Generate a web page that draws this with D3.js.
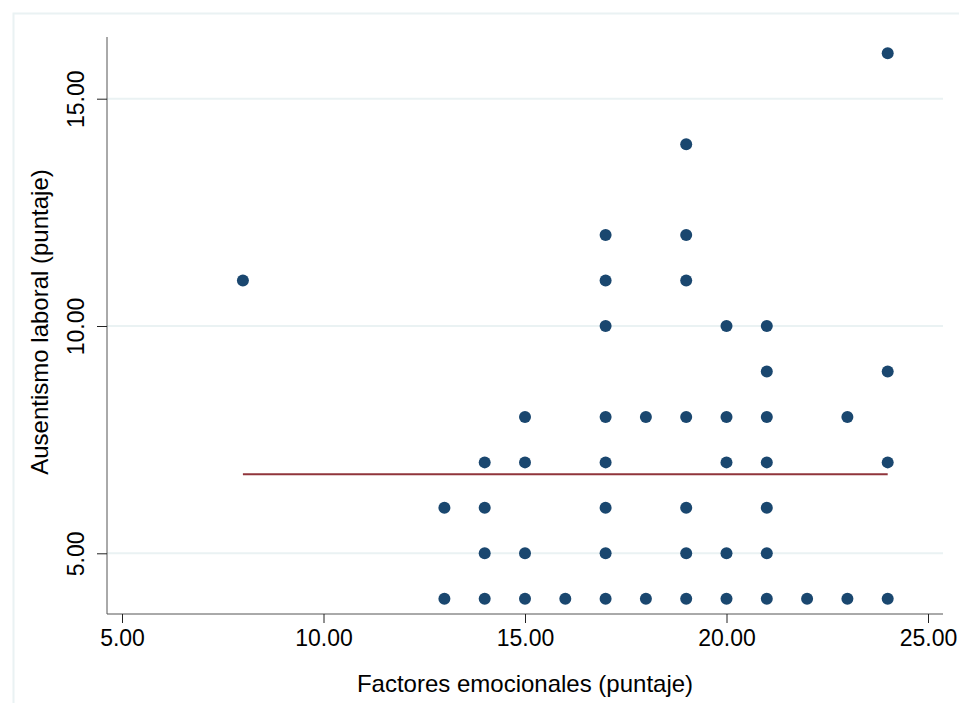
<!DOCTYPE html>
<html lang="es">
<head>
  <meta charset="UTF-8">
  <title>Factores emocionales vs ausentismo laboral</title>
  <style>
    body { margin: 0; background: #fff; }
    svg text { font-family: Arial, 'Liberation Sans', sans-serif; fill: #000; }
  </style>
</head>
<body>
  <div id="chart"></div>
  <script src="https://d3js.org/d3.v7.min.js"></script>
  <script>
    // factor emocional (x) y ausentismo (y) por observación
    const factores = [8, 13, 13, 14, 14, 14, 14, 15, 15, 15, 15, 16,
      17, 17, 17, 17, 17, 17, 17, 17, 18, 18,
      19, 19, 19, 19, 19, 19, 19, 20, 20, 20, 20, 20,
      21, 21, 21, 21, 21, 21, 21, 22, 23, 23, 24, 24, 24, 24];
    const ausentismo = [11, 6, 4, 7, 6, 5, 4, 8, 7, 5, 4, 4,
      12, 11, 10, 8, 7, 6, 5, 4, 8, 4,
      14, 12, 11, 8, 6, 5, 4, 10, 8, 7, 5, 4,
      10, 9, 8, 7, 6, 5, 4, 4, 8, 4, 16, 9, 7, 4];
    const ajusteX = [8, 24];
    const ajusteY = [6.74, 6.74];
    const xTicks = [5, 10, 15, 20, 25];
    const yTicks = [5, 10, 15];

    const width = 959, height = 703;
    const svg = d3.select("#chart").append("svg")
      .attr("width", width).attr("height", height);

    // marco exterior
    svg.append("path")
      .attr("d", `M13.5,${height} V13.5 H${width}`)
      .attr("fill", "none").attr("stroke", "#eaf2f3").attr("stroke-width", 2);

    const x = d3.scaleLinear().domain([5, 25]).range([122, 928]);
    const y = d3.scaleLinear().domain([5, 15]).range([553.3, 98.7]);

    const plotL = 107, plotR = 943, plotT = 37, plotB = 614;

    // rejilla
    svg.append("g").selectAll("line").data(yTicks).join("line")
      .attr("x1", plotL).attr("x2", plotR)
      .attr("y1", d => y(d)).attr("y2", d => y(d))
      .attr("stroke", "#eaf2f3").attr("stroke-width", 2);

    // ejes
    const yAxis = svg.append("g").attr("transform", `translate(${plotL},0)`)
      .call(d3.axisLeft(y).tickValues(yTicks).tickSize(10).tickFormat(d3.format(".2f")));
    yAxis.select(".domain").attr("d", `M0,${plotT}V${plotB}`).attr("stroke", "#555");
    yAxis.selectAll(".tick line").attr("stroke", "#222");
    yAxis.selectAll(".tick text")
      .attr("font-size", 23).attr("x", null).attr("dy", null)
      .attr("transform", "translate(-29,0) rotate(-90)")
      .attr("text-anchor", "middle").attr("dominant-baseline", "middle");

    const xAxis = svg.append("g").attr("transform", `translate(0,${plotB})`)
      .call(d3.axisBottom(x).tickValues(xTicks).tickSize(9).tickFormat(d3.format(".2f")));
    xAxis.select(".domain").attr("d", `M${plotL},0H${plotR}`).attr("stroke", "#555");
    xAxis.selectAll(".tick line").attr("stroke", "#222");
    xAxis.selectAll(".tick text").attr("font-size", 23).attr("y", 16);

    svg.append("text")
      .attr("x", 525).attr("y", 692)
      .attr("text-anchor", "middle").attr("font-size", 24)
      .text("Factores emocionales (puntaje)");

    svg.append("text")
      .attr("transform", `translate(48,322) rotate(-90)`)
      .attr("text-anchor", "middle").attr("font-size", 24)
      .text("Ausentismo laboral (puntaje)");

    // puntos
    svg.append("g").selectAll("circle").data(factores).join("circle")
      .attr("cx", d => x(d))
      .attr("cy", (d, i) => y(ausentismo[i]))
      .attr("r", 6)
      .attr("fill", "#1a476f");

    // recta de ajuste
    const linea = d3.line().x(d => x(d[0])).y(d => y(d[1]));
    svg.append("path")
      .datum(ajusteX.map((v, i) => [v, ajusteY[i]]))
      .attr("d", linea)
      .attr("fill", "none").attr("stroke", "#90353b").attr("stroke-width", 2);
  </script>
</body>
</html>
